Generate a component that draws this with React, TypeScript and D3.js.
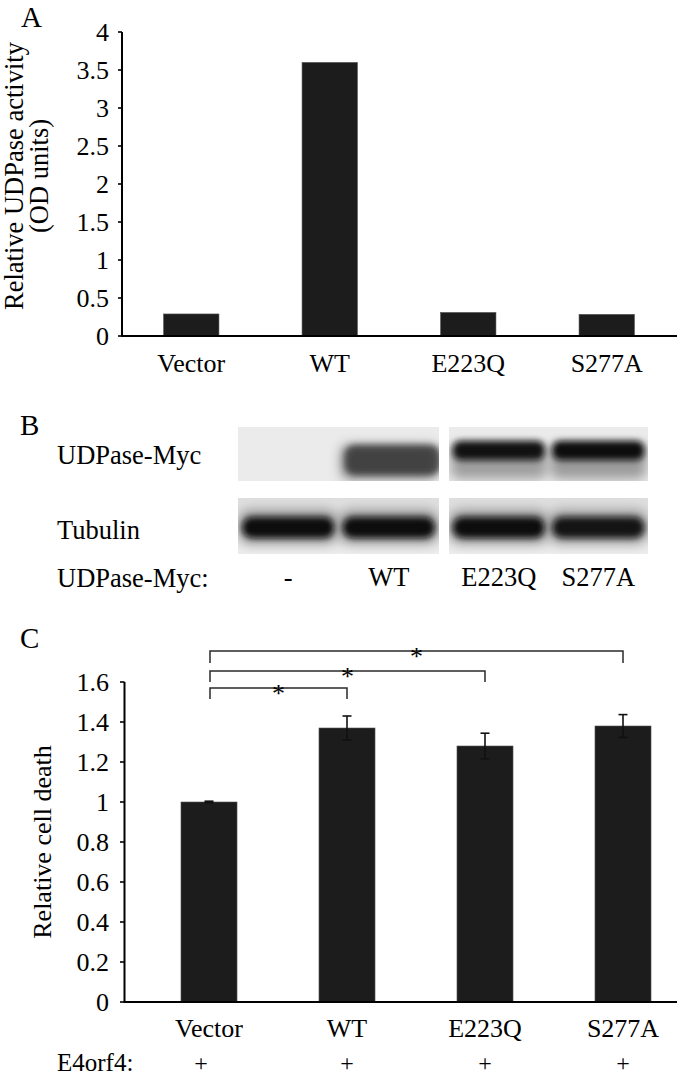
import * as d3 from 'd3';

// Panel A: UDPase activity
const categories = ['Vector', 'WT', 'E223Q', 'S277A'];
const activity = [0.29, 3.6, 0.31, 0.285];
const activityTicks = [0, 0.5, 1, 1.5, 2, 2.5, 3, 3.5, 4];

// Panel B: western blot lanes
const laneLabels = ['-', 'WT', 'E223Q', 'S277A'];
const mycBand = [0, 0.78, 0.97, 1.0];
const mycSmear = [0, 0.75, 0.6, 0.62];
const tubulinBand = [1.0, 1.0, 1.0, 0.95];

// Panel C: cell death
const cellDeath = [1.0, 1.37, 1.28, 1.38];
const cellDeathErr = [0.004, 0.06, 0.064, 0.057];
const cellDeathTicks = [0, 0.2, 0.4, 0.6, 0.8, 1, 1.2, 1.4, 1.6];
const comparisons = [1, 2, 3];
const e4orf4 = ['+', '+', '+', '+'];

const FONT = "'Liberation Serif', 'Times New Roman', 'DejaVu Serif', serif";
const INK = '#1c1c1c';

export default function App() {
  // ---- scales A
  const xA = d3.scaleBand<string>().domain(categories).range([122, 676]).paddingInner(0.6).paddingOuter(0.3);
  const yA = d3.scaleLinear().domain([0, 4]).range([336, 32]);

  // ---- scales B (two blot blocks with two lanes each)
  const blockLeft = d3.scaleBand<number>().domain([0, 1]).range([238, 439]);
  const blockRight = d3.scaleBand<number>().domain([2, 3]).range([449, 648]);
  const laneX = (i: number) => (i < 2 ? blockLeft(i)! + blockLeft.bandwidth() / 2 : blockRight(i)! + blockRight.bandwidth() / 2);
  const blocks = [
    { x0: 238, x1: 439 },
    { x0: 449, x1: 648 },
  ];
  const mycY = [427, 481];
  const tubY = [498, 554];

  // ---- scales C
  const xC = d3.scaleBand<string>().domain(categories).range([140, 692]).paddingInner(0.594).paddingOuter(0.297);
  const yC = d3.scaleLinear().domain([0, 1.6]).range([1002, 682]);
  const cx = (i: number) => xC(categories[i])! + xC.bandwidth() / 2;
  const fmt = (d: number) => String(+d.toFixed(1));

  const bracketY = [688, 671, 651];
  const bracketDrop = [11, 11, 12];

  return (
    <svg width={680} height={1077} style={{ position: 'absolute', left: 0, top: 0, background: '#fff', fontFamily: FONT }}>
      <defs>
        <filter id="blur3" x="-30%" y="-60%" width="160%" height="220%">
          <feGaussianBlur stdDeviation="3" />
        </filter>
        <filter id="blur6" x="-30%" y="-80%" width="160%" height="260%">
          <feGaussianBlur stdDeviation="6" />
        </filter>
        {blocks.map((b, k) => (
          <clipPath id={`clipMyc${k}`} key={`cm${k}`}>
            <rect x={b.x0} y={mycY[0]} width={b.x1 - b.x0} height={mycY[1] - mycY[0]} />
          </clipPath>
        ))}
        {blocks.map((b, k) => (
          <clipPath id={`clipTub${k}`} key={`ct${k}`}>
            <rect x={b.x0} y={tubY[0]} width={b.x1 - b.x0} height={tubY[1] - tubY[0]} />
          </clipPath>
        ))}
        <linearGradient id="tubBg" x1="0" y1="0" x2="0" y2="1">
          <stop offset="0" stopColor="#dedede" />
          <stop offset="0.6" stopColor="#e6e6e6" />
          <stop offset="1" stopColor="#eeeeee" />
        </linearGradient>
      </defs>

      {/* ================= Panel A ================= */}
      <text x={21} y={27} fontSize={29}>A</text>
      <g>
        {activity.map((v, i) => (
          <rect key={i} x={xA(categories[i])} y={yA(v)} width={xA.bandwidth()} height={yA(0) - yA(v)} fill={INK} stroke="#555" strokeWidth={0.6} />
        ))}
        <line x1={122} x2={122} y1={yA(4)} y2={yA(0)} stroke="#000" strokeWidth={2} />
        <line x1={121} x2={677} y1={yA(0)} y2={yA(0)} stroke="#000" strokeWidth={2} />
        {activityTicks.map(t => (
          <g key={t}>
            <line x1={118} x2={122} y1={yA(t)} y2={yA(t)} stroke="#000" strokeWidth={1.6} />
            <text x={109} y={yA(t)} dy="0.36em" textAnchor="end" fontSize={26}>{fmt(t)}</text>
          </g>
        ))}
        {categories.map(c => (
          <text key={c} x={xA(c)! + xA.bandwidth() / 2} y={372} textAnchor="middle" fontSize={26}>{c}</text>
        ))}
        <text transform="translate(23,176) rotate(-90)" textAnchor="middle" fontSize={26.5}>Relative UDPase activity</text>
        <text transform="translate(48,176) rotate(-90)" textAnchor="middle" fontSize={26.5}>(OD units)</text>
      </g>

      {/* ================= Panel B ================= */}
      <text x={20} y={435} fontSize={29}>B</text>
      <text x={57} y={464} fontSize={26.5}>UDPase-Myc</text>
      <text x={57} y={539} fontSize={26.5}>Tubulin</text>
      {blocks.map((b, k) => (
        <g key={`mb${k}`}>
          <rect x={b.x0} y={mycY[0]} width={b.x1 - b.x0} height={mycY[1] - mycY[0]} fill="#ebebeb" />
          <g clipPath={`url(#clipMyc${k})`}>
            {mycBand.map((v, i) => {
              if ((i < 2) !== (k === 0) || v === 0) return null;
              const x = laneX(i);
              const w = 96;
              return (
                <g key={i}>
                  <rect x={x - w / 2} y={445} width={w} height={34} rx={8} fill="#6a6a6a" opacity={mycSmear[i]} filter="url(#blur6)" />
                  {i === 1 ? (
                    <rect x={x - w / 2 + 4} y={445} width={w} height={30} rx={10} fill="#2e2e2e" opacity={v} filter="url(#blur3)" />
                  ) : (
                    <rect x={x - w / 2 + 2} y={441} width={w - 4} height={19} rx={8} fill="#0e0e0e" opacity={v} filter="url(#blur3)" />
                  )}
                </g>
              );
            })}
          </g>
        </g>
      ))}
      {blocks.map((b, k) => (
        <g key={`tb${k}`}>
          <rect x={b.x0} y={tubY[0]} width={b.x1 - b.x0} height={tubY[1] - tubY[0]} fill="url(#tubBg)" />
          <g clipPath={`url(#clipTub${k})`}>
            {tubulinBand.map((v, i) => {
              if ((i < 2) !== (k === 0)) return null;
              const x = laneX(i);
              const w = 92;
              return (
                <g key={i}>
                  <rect x={x - w / 2 - 4} y={510} width={w + 8} height={34} rx={12} fill="#555" opacity={0.55 * v} filter="url(#blur6)" />
                  <rect x={x - w / 2} y={517} width={w} height={21} rx={10} fill="#080808" opacity={v} filter="url(#blur3)" />
                </g>
              );
            })}
          </g>
        </g>
      ))}
      <text x={57} y={587} fontSize={26.5}>UDPase-Myc:</text>
      {laneLabels.map((l, i) => (
        <text key={l} x={laneX(i)} y={586} textAnchor="middle" fontSize={26.5}>{l}</text>
      ))}

      {/* ================= Panel C ================= */}
      <text x={20} y={648} fontSize={29}>C</text>
      <g>
        {cellDeath.map((v, i) => (
          <rect key={i} x={xC(categories[i])} y={yC(v)} width={xC.bandwidth()} height={yC(0) - yC(v)} fill={INK} stroke="#555" strokeWidth={0.6} />
        ))}
        {cellDeath.map((v, i) => (
          <g key={`e${i}`} stroke="#111" strokeWidth={1.6}>
            <line x1={cx(i)} x2={cx(i)} y1={yC(v + cellDeathErr[i])} y2={yC(v - cellDeathErr[i])} />
            <line x1={cx(i) - 4.5} x2={cx(i) + 4.5} y1={yC(v + cellDeathErr[i])} y2={yC(v + cellDeathErr[i])} />
            <line x1={cx(i) - 4.5} x2={cx(i) + 4.5} y1={yC(v - cellDeathErr[i])} y2={yC(v - cellDeathErr[i])} />
          </g>
        ))}
        <line x1={124.5} x2={124.5} y1={yC(1.6)} y2={yC(0)} stroke="#000" strokeWidth={2} />
        <line x1={123.5} x2={677} y1={yC(0)} y2={yC(0)} stroke="#000" strokeWidth={2} />
        {cellDeathTicks.map(t => (
          <g key={t}>
            <line x1={120} x2={124.5} y1={yC(t)} y2={yC(t)} stroke="#000" strokeWidth={1.6} />
            <text x={109} y={yC(t)} dy="0.36em" textAnchor="end" fontSize={26}>{fmt(t)}</text>
          </g>
        ))}
        {categories.map((c, i) => (
          <text key={c} x={cx(i)} y={1037} textAnchor="middle" fontSize={26}>{c}</text>
        ))}
        <text transform="translate(51,842) rotate(-90)" textAnchor="middle" fontSize={26}>Relative cell death</text>

        {/* significance brackets */}
        {comparisons.map((j, k) => {
          const y = bracketY[k];
          const x0 = cx(0) + 1;
          const x1 = cx(j);
          return (
            <g key={j}>
              <path d={`M${x0},${y + bracketDrop[k]}V${y}H${x1}V${y + bracketDrop[k]}`} fill="none" stroke="#2a2a2a" strokeWidth={1.5} />
              <text x={(x0 + x1) / 2} y={y + 14} textAnchor="middle" fontSize={26}>*</text>
            </g>
          );
        })}

        <text x={57} y={1071} fontSize={25}>E4orf4:</text>
        {e4orf4.map((s, i) => (
          <text key={i} x={cx(i) - (i === 0 ? 8 : 0)} y={1071} textAnchor="middle" fontSize={24}>{s}</text>
        ))}
      </g>
    </svg>
  );
}
